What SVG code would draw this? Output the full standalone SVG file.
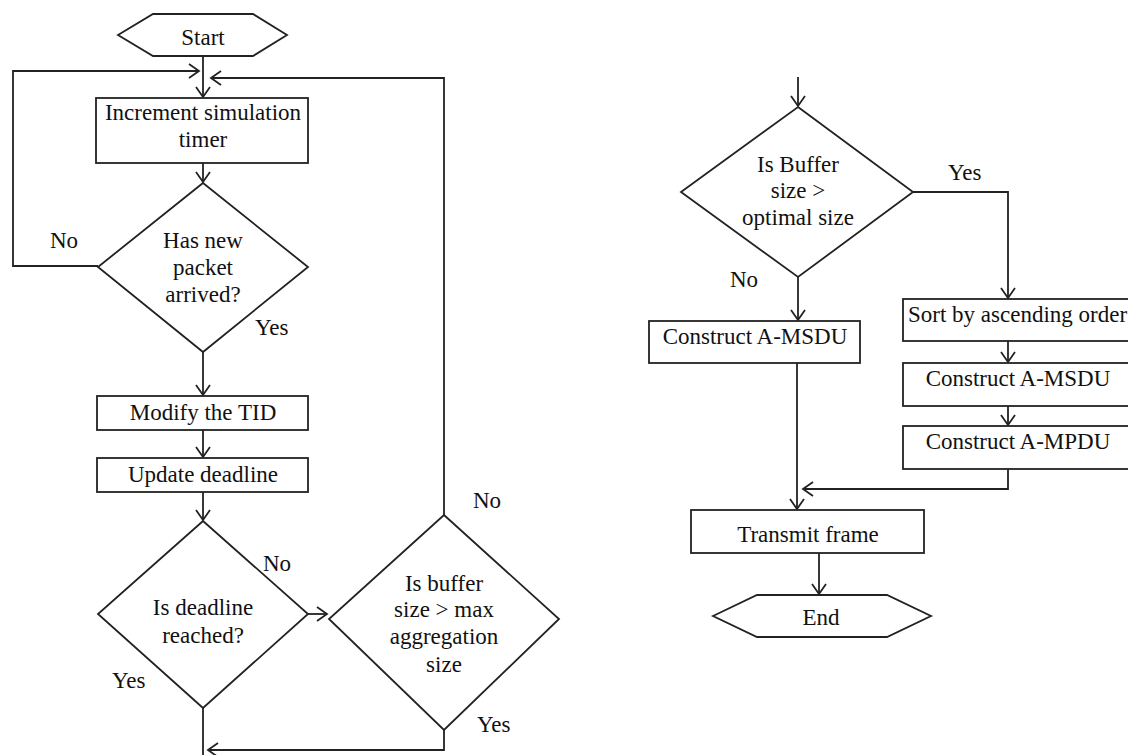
<svg xmlns="http://www.w3.org/2000/svg" width="1128" height="755" viewBox="0 0 1128 755">
<defs>
<marker id="arr" markerUnits="userSpaceOnUse" markerWidth="14" markerHeight="18" refX="11" refY="8" orient="auto" overflow="visible">
<path d="M1,1 L11,8 L1,15" fill="none" stroke="#222" stroke-width="1.8"/>
</marker>
<style>
.shape{fill:#fff;stroke:#222;stroke-width:1.8}
.t{font-family:"Liberation Serif","Times New Roman",serif;font-size:23px;fill:#111;text-anchor:middle}
.l{font-family:"Liberation Serif","Times New Roman",serif;font-size:23px;fill:#111}
.c{fill:none;stroke:#222;stroke-width:1.8}
.a{marker-end:url(#arr)}
</style>
</defs>
<rect width="1128" height="755" fill="#fff"/>
<g id="connectors">
<path class="c a" d="M203,56 V97"/>
<path class="c a" d="M98,266 H13 V71 H199"/>
<path class="c a" d="M444,515 V78 H211"/>
<path class="c a" d="M203,163 V182"/>
<path class="c a" d="M203,352 V395"/>
<path class="c a" d="M203,430 V457"/>
<path class="c a" d="M203,492 V520"/>
<path class="c a" d="M308,614 H327"/>
<path class="c" d="M203,708 V755"/>
<path class="c a" d="M444,730 V750 H208"/>
<path class="c a" d="M798,77 V106"/>
<path class="c a" d="M913,192 H1008 V298"/>
<path class="c a" d="M798,277 V320"/>
<path class="c a" d="M1008,341 V362"/>
<path class="c a" d="M1008,406 V425"/>
<path class="c a" d="M797,363 V509"/>
<path class="c a" d="M1008,469 V489 H803"/>
<path class="c a" d="M819,553 V594"/>
</g>
<g id="start">
<polygon class="shape" points="118,35 153,14 253,14 287,35 253,56 153,56"/>
<text class="t" x="203" y="45">Start</text>
</g>
<g id="increment">
<rect class="shape" x="96" y="98" width="212" height="65"/>
<text class="t" x="203" y="120">Increment simulation</text>
<text class="t" x="203" y="147">timer</text>
</g>
<g id="new-packet">
<polygon class="shape" points="203,183 308,267 203,352 98,267"/>
<text class="t" x="203" y="248">Has new</text>
<text class="t" x="203" y="275">packet</text>
<text class="t" x="203" y="302">arrived?</text>
</g>
<g id="modify-tid">
<rect class="shape" x="97" y="396" width="211" height="34"/>
<text class="t" x="203" y="420">Modify the TID</text>
</g>
<g id="update-deadline">
<rect class="shape" x="97" y="458" width="211" height="34"/>
<text class="t" x="203" y="482">Update deadline</text>
</g>
<g id="deadline-reached">
<polygon class="shape" points="203,521 308,614 203,708 98,614"/>
<text class="t" x="203" y="615">Is deadline</text>
<text class="t" x="203" y="643">reached?</text>
</g>
<g id="buffer-max">
<polygon class="shape" points="444,515 559,619 444,730 329,619"/>
<text class="t" x="444" y="591">Is buffer</text>
<text class="t" x="444" y="617">size &gt; max</text>
<text class="t" x="444" y="644">aggregation</text>
<text class="t" x="444" y="672">size</text>
</g>
<g id="buffer-optimal">
<polygon class="shape" points="798,107 913,192 798,277 681,192"/>
<text class="t" x="798" y="172">Is Buffer</text>
<text class="t" x="798" y="198">size &gt;</text>
<text class="t" x="798" y="225">optimal size</text>
</g>
<g id="construct-msdu-left">
<rect class="shape" x="649" y="321" width="211" height="42"/>
<text class="t" x="755" y="344">Construct A-MSDU</text>
</g>
<g id="sort">
<rect class="shape" x="903" y="299" width="240" height="42"/>
<text class="l" x="908" y="322">Sort by ascending order</text>
</g>
<g id="construct-msdu-right">
<rect class="shape" x="903" y="363" width="240" height="43"/>
<text class="t" x="1018" y="386">Construct A-MSDU</text>
</g>
<g id="construct-mpdu">
<rect class="shape" x="903" y="426" width="240" height="43"/>
<text class="t" x="1018" y="449">Construct A-MPDU</text>
</g>
<g id="transmit">
<rect class="shape" x="691" y="510" width="233" height="43"/>
<text class="t" x="808" y="542">Transmit frame</text>
</g>
<g id="end">
<polygon class="shape" points="713,616 757,595 887,595 931,616 887,637 757,637"/>
<text class="t" x="821" y="625">End</text>
</g>
<g id="labels">
<text class="l" x="50" y="248">No</text>
<text class="l" x="255" y="335">Yes</text>
<text class="l" x="263" y="571">No</text>
<text class="l" x="112" y="688">Yes</text>
<text class="l" x="473" y="508">No</text>
<text class="l" x="477" y="732">Yes</text>
<text class="l" x="948" y="180">Yes</text>
<text class="l" x="730" y="287">No</text>
</g>
</svg>
